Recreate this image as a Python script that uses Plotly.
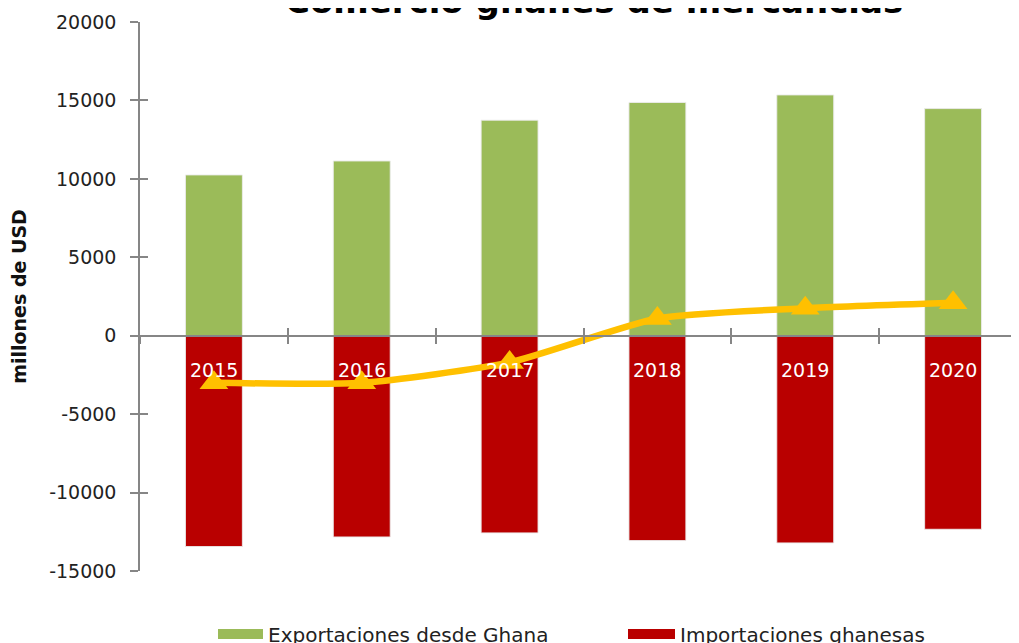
import plotly.graph_objects as go

years = ["2015", "2016", "2017", "2018", "2019", "2020"]
exportaciones = [10250, 11140, 13740, 14870, 15350, 14480]
importaciones = [-13440, -12830, -12570, -13060, -13210, -12340]
balanza = [-3000, -3000, -1700, 1100, 1750, 2100]
y_ticks = [-15000, -10000, -5000, 0, 5000, 10000, 15000, 20000]
y_tick_labels = ["-15000", "-10000", "-5000", "0", "5000", "10000", "15000", "20000"]

GREEN = "#9BBB59"
RED = "#B90000"
GOLD = "#FFC000"
AX = "#868686"
FONT = "DejaVu Sans"

fig = go.Figure()
fig.add_trace(go.Bar(x=years, y=exportaciones, name="Exportaciones desde Ghana",
                     marker=dict(color=GREEN, line=dict(color="rgba(235,235,235,0.9)", width=1)),
                     width=0.385, showlegend=False))
fig.add_trace(go.Bar(x=years, y=importaciones, name="Importaciones ghanesas",
                     marker=dict(color=RED, line=dict(color="rgba(235,235,235,0.9)", width=1)),
                     width=0.385, showlegend=False))
fig.add_trace(go.Scatter(x=years, y=balanza, name="Balanza comercial", mode="lines+markers",
                         line=dict(color=GOLD, width=6.5, shape="spline", smoothing=0.6),
                         marker=dict(symbol="triangle-up", size=25, color=GOLD),
                         showlegend=False))
# legend entries (swatches)
fig.add_trace(go.Scatter(x=[None], y=[None], mode="lines", name="Exportaciones desde Ghana",
                         line=dict(color=GREEN, width=10), legend="legend"))
fig.add_trace(go.Scatter(x=[None], y=[None], mode="lines", name="Importaciones ghanesas",
                         line=dict(color=RED, width=10), legend="legend2"))
# overlay axes for crossing ticks
fig.add_trace(go.Scatter(x=years, y=balanza, xaxis="x2", yaxis="y2", mode="none",
                         showlegend=False, hoverinfo="skip"))

ypos = 15000 / 35000
xr = [-0.5, 5.5]
L0 = 140.0   # screen x of plot left
PW = 887.0   # plot width in px
PT = 22.0    # screen y of plot top
PH = 549.0   # plot height in px
legfont = dict(family=FONT, size=20, color="#222222")
fig.update_layout(
    width=1019, height=643,
    margin=dict(l=132, r=0, t=14, b=80, autoexpand=False),
    paper_bgcolor="white", plot_bgcolor="white",
    barmode="overlay",
    font=dict(family=FONT, size=19, color="#222222"),
    xaxis=dict(type="category", range=xr, showticklabels=False, tickson="boundaries",
               ticks="outside", ticklen=8, tickcolor=AX, tickwidth=1.5,
               showline=True, linecolor=AX, linewidth=1.5, showgrid=False, zeroline=False,
               anchor="free", position=ypos),
    xaxis2=dict(type="category", overlaying="x", matches="x", range=xr, showticklabels=False,
                tickson="boundaries", ticks="inside", ticklen=8, tickcolor=AX, tickwidth=1.5,
                showline=False, showgrid=False, zeroline=False, anchor="free", position=ypos),
    yaxis=dict(range=[-15000, 20000], tickvals=y_ticks, ticktext=y_tick_labels,
               ticks="outside", ticklen=8, automargin=False,
               tickcolor=AX, tickwidth=1.5, showline=True, linecolor=AX, linewidth=1.5,
               showgrid=False, zeroline=False, tickfont=dict(family=FONT, size=19, color="#222222"),
               ticklabelstandoff=10,
               title=dict(text="<b>millones de USD</b>", standoff=17,
                          font=dict(family=FONT, size=19, color="#111111"))),
    yaxis2=dict(overlaying="y", matches="y", range=[-15000, 20000], tickvals=y_ticks,
                ticks="inside", ticklen=8, tickcolor=AX, tickwidth=1.5, showticklabels=False,
                showline=False, showgrid=False, zeroline=False, anchor="x2", side="left"),
    legend=dict(orientation="h", x=(213 - L0) / PW, xanchor="left", y=(PT + PH - 634) / PH,
                yanchor="middle", font=legfont, itemwidth=45, bgcolor="rgba(0,0,0,0)"),
    legend2=dict(orientation="h", x=(623 - L0) / PW, xanchor="left", y=(PT + PH - 634) / PH,
                 yanchor="middle", font=legfont, itemwidth=47, bgcolor="rgba(0,0,0,0)"),
    showlegend=True,
)

annotations = [dict(x=i, y=0, xref="x", yref="y", text=yr, showarrow=False, yshift=-34,
                    yanchor="middle", font=dict(family=FONT, size=19, color="white"))
               for i, yr in enumerate(years)]
annotations.append(dict(x=(594 - L0) / PW, xref="paper", y=1 + 21 / PH, yref="paper",
                        xanchor="center", yanchor="middle",
                        text="<b>Comercio ghanés de mercancías</b>",
                        showarrow=False, font=dict(family=FONT, size=34, color="black")))
fig.update_layout(annotations=annotations)

fig.write_html("out.html")
